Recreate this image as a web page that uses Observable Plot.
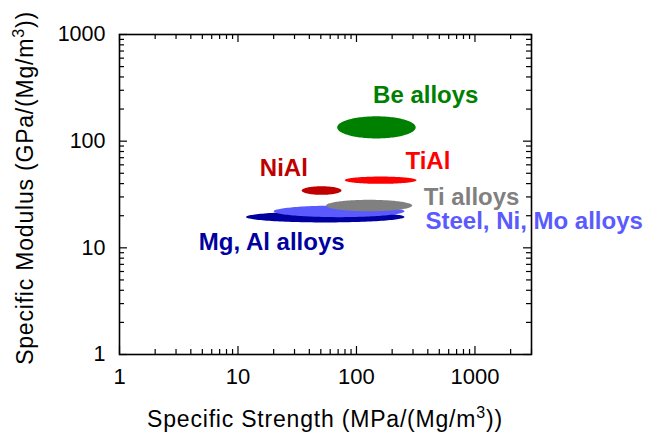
<!DOCTYPE html>
<html>
<head>
<meta charset="utf-8">
<script src="https://cdn.jsdelivr.net/npm/d3@7"></script>
<script src="https://cdn.jsdelivr.net/npm/@observablehq/plot@0.6"></script>
<style>
  html, body { margin: 0; padding: 0; background: #fff; }
  #chart { width: 649px; height: 437px; }
</style>
</head>
<body>
<div id="chart"></div>
<script>
// ---- data ----
const materials   = ["Mg, Al alloys", "Steel, Ni, Mo alloys", "Ti alloys", "NiAl", "TiAl", "Be alloys"];
const strengthMin = [11.7, 20.0, 55.5, 34.5, 79.6, 68.7];   // MPa/(Mg/m3)
const strengthMax = [254, 254, 295, 74.7, 321, 316];
const modulusMin  = [17.3, 19.4, 22.0, 31.4, 39.8, 106];    // GPa/(Mg/m3)
const modulusMax  = [21.9, 24.9, 28.2, 37.8, 46.6, 171];
const colors      = ["#0000a0", "#5a5aff", "#808080", "#c00000", "#ff0000", "#008000"];
const labelX      = [4.67, 382, 370, 15.3, 259, 138];
const labelY      = [11.3, 17.7, 29.9, 55.4, 65.1, 267];
const xTickLabels = [1, 10, 100, 1000];
const yTickLabels = [1, 10, 100, 1000];
const xDomain = [1, 3000];
const yDomain = [1, 1000];

// ---- layout ----
const W = 649, H = 437;
const mL = 119, mR = 118, mT = 34, mB = 83;
const plotW = W - mL - mR, plotH = H - mT - mB;
const majorLen = 8, minorLen = 5;

// ellipse outlines (in log space) built from each region's ranges
const ellipses = materials.map((name, i) => {
  const lx0 = Math.log10(strengthMin[i]), lx1 = Math.log10(strengthMax[i]);
  const ly0 = Math.log10(modulusMin[i]), ly1 = Math.log10(modulusMax[i]);
  const cx = (lx0 + lx1) / 2, cy = (ly0 + ly1) / 2, ax = (lx1 - lx0) / 2, ay = (ly1 - ly0) / 2;
  const pts = d3.range(0, 145).map(k => {
    const t = 2 * Math.PI * k / 144;
    return {x: Math.pow(10, cx + ax * Math.cos(t)), y: Math.pow(10, cy + ay * Math.sin(t))};
  });
  return {name, color: colors[i], pts};
});

const labels = materials.map((name, i) => ({name, x: labelX[i], y: labelY[i], color: colors[i]}));

function logTicks(lo, hi) {
  const major = [], minor = [];
  for (let e = 0; e <= 4; e++) {
    for (let m = 1; m <= 9; m++) {
      const v = m * Math.pow(10, e);
      if (v < lo - 1e-9 || v > hi + 1e-9) continue;
      (m === 1 ? major : minor).push(v);
    }
  }
  return {major, minor};
}
const xt = logTicks(xDomain[0], xDomain[1]);
const yt = logTicks(yDomain[0], yDomain[1]);

const marks = [];
for (const e of ellipses) {
  marks.push(Plot.line(e.pts, {x: "x", y: "y", fill: e.color, stroke: "none"}));
}
// inward ticks on all four sides
marks.push(
  Plot.ruleX(xt.major, {x: d => d, insetTop: plotH - majorLen, stroke: "#000", strokeWidth: 1.2}),
  Plot.ruleX(xt.minor, {x: d => d, insetTop: plotH - minorLen, stroke: "#000", strokeWidth: 1.2}),
  Plot.ruleX(xt.major, {x: d => d, insetBottom: plotH - majorLen, stroke: "#000", strokeWidth: 1.2}),
  Plot.ruleX(xt.minor, {x: d => d, insetBottom: plotH - minorLen, stroke: "#000", strokeWidth: 1.2}),
  Plot.ruleY(yt.major, {y: d => d, insetRight: plotW - majorLen, stroke: "#000", strokeWidth: 1.2}),
  Plot.ruleY(yt.minor, {y: d => d, insetRight: plotW - minorLen, stroke: "#000", strokeWidth: 1.2}),
  Plot.ruleY(yt.major, {y: d => d, insetLeft: plotW - majorLen, stroke: "#000", strokeWidth: 1.2}),
  Plot.ruleY(yt.minor, {y: d => d, insetLeft: plotW - minorLen, stroke: "#000", strokeWidth: 1.2}),
  Plot.frame({stroke: "#000", strokeWidth: 1.6}),
  Plot.axisX(xTickLabels, {anchor: "bottom", tickSize: 0, tickPadding: 14, fontSize: 22,
    tickFormat: d => String(d), label: null, fill: "#000"}),
  Plot.axisY(yTickLabels, {anchor: "left", tickSize: 0, tickPadding: 14, fontSize: 21.5,
    tickFormat: d => String(d), label: null, fill: "#000"}),
  Plot.text(labels, {x: "x", y: "y", text: "name", fill: "color", textAnchor: "start",
    fontSize: 24, fontWeight: "bold"})
);

const chart = Plot.plot({
  width: W, height: H,
  marginLeft: mL, marginRight: mR, marginTop: mT, marginBottom: mB,
  style: {fontFamily: "'Liberation Sans', Arial, Helvetica, sans-serif", background: "#fff", overflow: "visible"},
  x: {type: "log", domain: xDomain, axis: null},
  y: {type: "log", domain: yDomain, axis: null},
  color: {type: "identity"},
  marks
});
document.getElementById("chart").appendChild(chart);

// axis titles with real superscripts
const svg = d3.select(chart);
const xt1 = svg.append("text")
  .attr("x", mL + plotW / 2).attr("y", 427)
  .attr("text-anchor", "middle")
  .attr("font-size", 23).attr("letter-spacing", 0.8).attr("fill", "#000")
  .attr("font-family", "'Liberation Sans', Arial, sans-serif");
xt1.append("tspan").text("Specific Strength (MPa/(Mg/m");
xt1.append("tspan").attr("font-size", 16).attr("dy", -9).text("3");
xt1.append("tspan").attr("dy", 9).text("))");

const yt1 = svg.append("text")
  .attr("transform", `translate(33, ${mT + plotH / 2 - 6}) rotate(-90)`)
  .attr("text-anchor", "middle")
  .attr("font-size", 23).attr("letter-spacing", 0.8).attr("fill", "#000")
  .attr("font-family", "'Liberation Sans', Arial, sans-serif");
yt1.append("tspan").text("Specific Modulus (GPa/(Mg/m");
yt1.append("tspan").attr("font-size", 16).attr("dy", -9).text("3");
yt1.append("tspan").attr("dy", 9).text("))");
</script>
</body>
</html>
